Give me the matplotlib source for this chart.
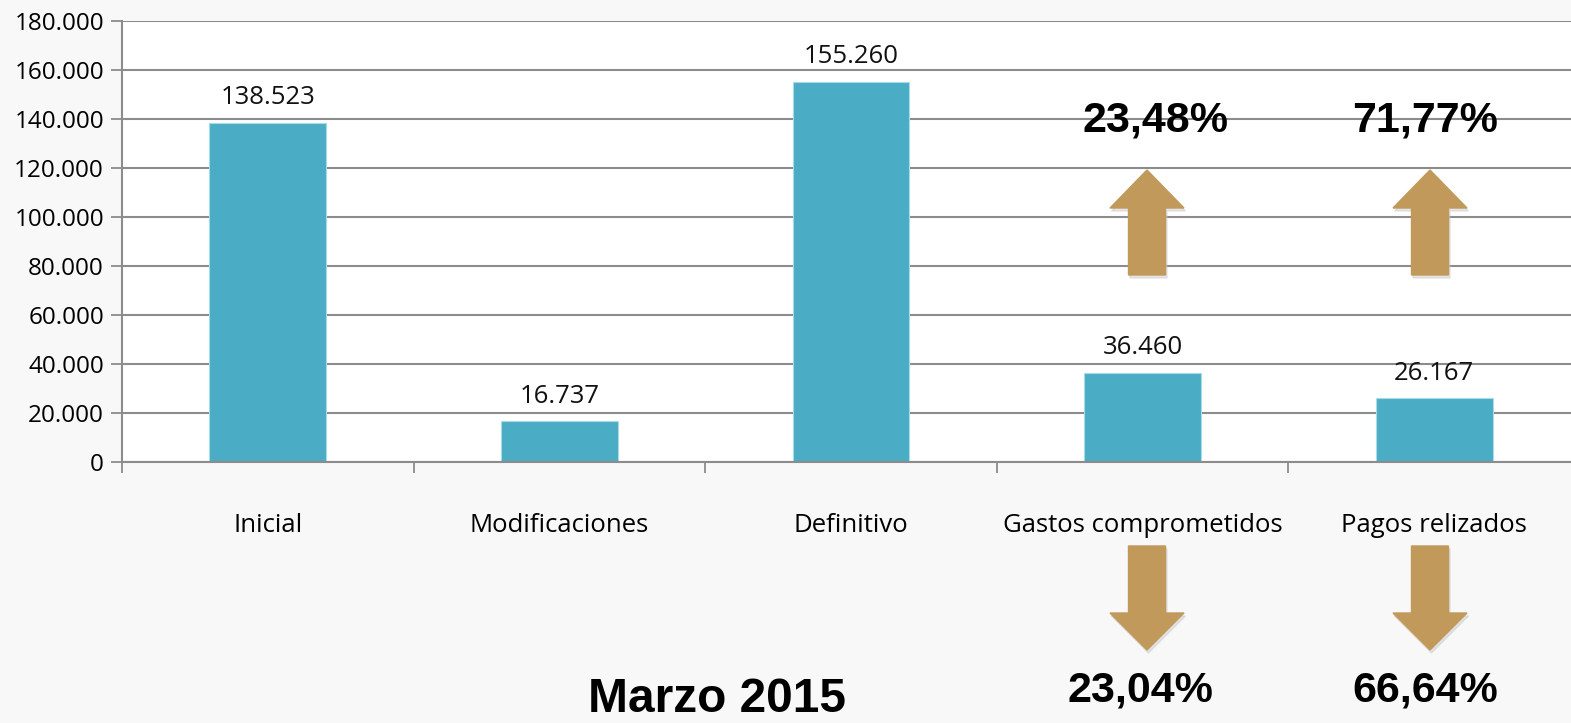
import numpy as np
import matplotlib.pyplot as plt
from matplotlib.patches import Polygon
from matplotlib.ticker import FuncFormatter

# Data
categories = ['Inicial', 'Modificaciones', 'Definitivo', 'Gastos comprometidos', 'Pagos relizados']
values = [138523, 16737, 155260, 36460, 26167]
value_labels = ['138.523', '16.737', '155.260', '36.460', '26.167']
pct_up = ['23,48%', '71,77%']
pct_down = ['23,04%', '66,64%']
title = 'Marzo 2015'

W, H = 1571, 723
fig = plt.figure(figsize=(W / 100, H / 100), dpi=100, facecolor='#f8f8f8')
ax = fig.add_axes([122 / W, 1 - 462 / H, (1580 - 122) / W, (462 - 21) / H])
ax.set_facecolor('white')

x = np.arange(len(categories))
ax.bar(x, values, width=0.4, color='#4BACC6', edgecolor='#a8dbe8', linewidth=0.8, zorder=2)

for xi, v, lab in zip(x, values, value_labels):
    ax.text(xi, v + 5000, lab, ha='center', va='bottom', fontsize=18.5, family='Open Sans', color='#111111')

ax.set_xlim(-0.5, 4.5)
ax.set_ylim(0, 180000)
ax.set_yticks(np.arange(0, 180001, 20000))
ax.yaxis.set_major_formatter(FuncFormatter(lambda v, p: '{:,.0f}'.format(v).replace(',', '.')))
ax.grid(axis='y', color='#8c8c8c', linewidth=1.5, zorder=0)
ax.set_axisbelow(True)

ax.set_xticks(np.arange(-0.5, 4.6, 1.0))
ax.set_xticklabels([])
ax.set_xticks(x, minor=True)
ax.set_xticklabels(categories, minor=True, fontsize=18.5, family='Open Sans')
ax.tick_params(axis='x', which='minor', length=0, pad=37)
ax.tick_params(axis='x', which='major', length=8, width=1.3, color='#8c8c8c', direction='out')
ax.tick_params(axis='y', length=8, width=1.3, color='#8c8c8c', labelsize=17.5, pad=5)
for lab in ax.get_yticklabels():
    lab.set_family('Open Sans')

for s in ['top', 'right']:
    ax.spines[s].set_visible(False)
ax.spines['left'].set_color('#8c8c8c')
ax.spines['left'].set_linewidth(1.5)
ax.spines['left'].set_bounds(0, 180000)
ax.spines['bottom'].set_color('#8c8c8c')
ax.spines['bottom'].set_linewidth(1.5)

# Arrows (pixel coordinates in figure)
arrow_color = '#C1995A'
shadow_color = '#c8c8c8'


def arrow(cx, y_tip, y_head, y_end):
    hw, sw = 37, 18.5
    pts = [(cx, y_tip), (cx + hw, y_head), (cx + sw, y_head), (cx + sw, y_end),
           (cx - sw, y_end), (cx - sw, y_head), (cx - hw, y_head)]
    sh = [(px + 1.5, py + 3) for px, py in pts]
    fig.patches.append(Polygon([(px / W, 1 - py / H) for px, py in sh], closed=True,
                               transform=fig.transFigure, color=shadow_color, alpha=0.45, zorder=3))
    fig.patches.append(Polygon([(px / W, 1 - py / H) for px, py in pts], closed=True,
                               transform=fig.transFigure, color=arrow_color, zorder=4))


for cx in [1147, 1430]:
    arrow(cx, 170, 208, 275)
    arrow(cx, 650, 613, 546)

for cx, t in zip([1155, 1425], pct_up):
    fig.text(cx / W, 1 - 120 / H, t, ha='center', va='center', fontsize=31,
             fontweight='bold', family='Liberation Sans', color='black')
for cx, t in zip([1140, 1425], pct_down):
    fig.text(cx / W, 1 - 691 / H, t, ha='center', va='center', fontsize=31,
             fontweight='bold', family='Liberation Sans', color='black')

fig.text(717 / W, 1 - 700 / H, title, ha='center', va='center', fontsize=34.5,
         fontweight='bold', family='Liberation Sans', color='black')

fig.savefig('out.png', dpi=100, facecolor=fig.get_facecolor())
